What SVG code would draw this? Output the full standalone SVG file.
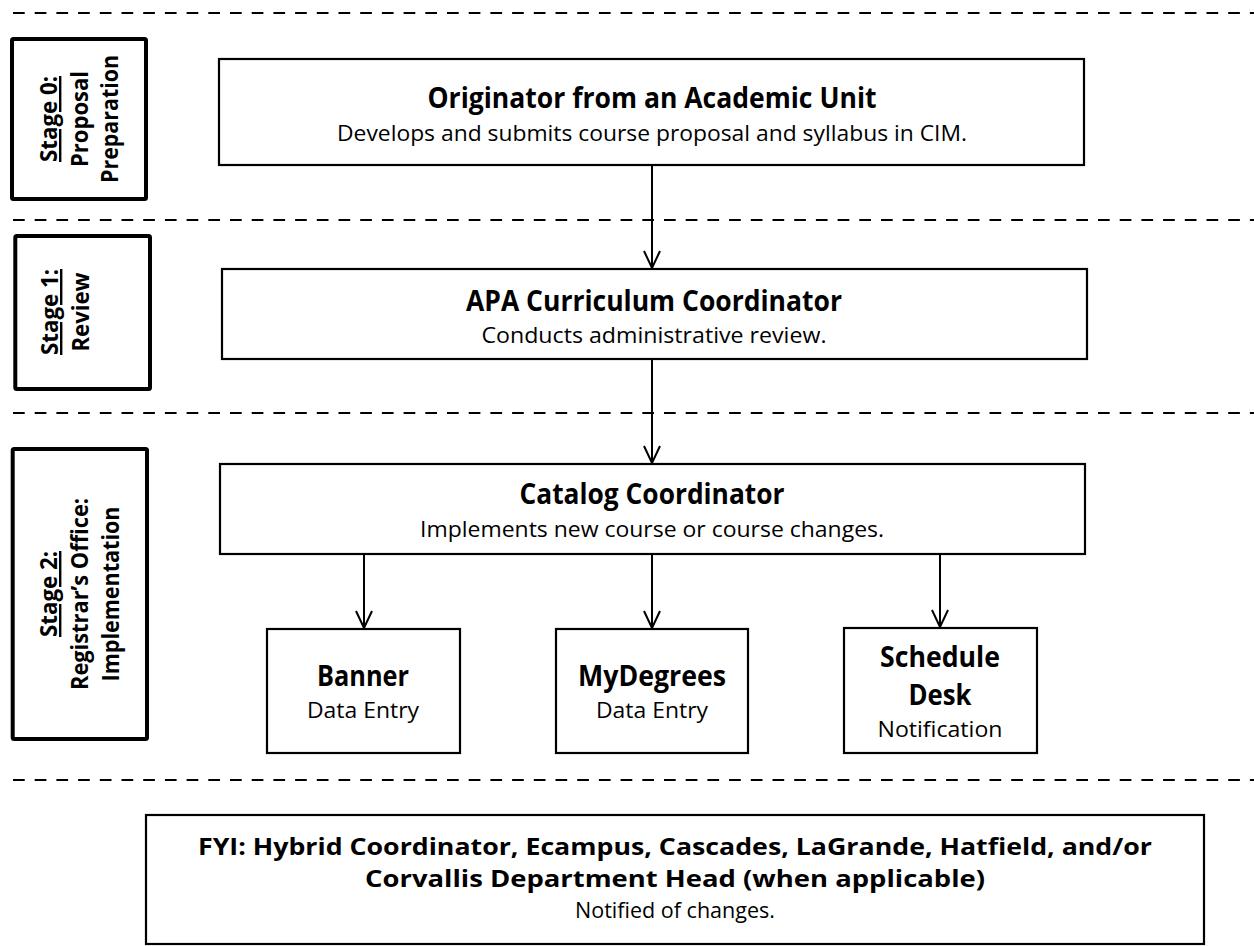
<svg xmlns="http://www.w3.org/2000/svg" width="1254" height="946" viewBox="0 0 1254 946">
<defs>
<style>
.bg{fill:#fff}
.sep{stroke:#000;stroke-width:2;stroke-dasharray:11.7 10;fill:none}
.stage{fill:#fff;stroke:#000;stroke-width:4}
.box{fill:#fff;stroke:#000;stroke-width:2.2}
.t{font-family:"Open Sans","Noto Sans",sans-serif;font-weight:bold;font-size:28px;fill:#000;text-anchor:middle}
.s{font-family:"Open Sans","Noto Sans",sans-serif;font-size:22px;fill:#000;text-anchor:middle}
.st{font-family:"Open Sans","Noto Sans",sans-serif;font-weight:bold;font-size:24px;fill:#000;text-anchor:middle}
.fyi{font-family:"Open Sans","Noto Sans",sans-serif;font-weight:bold;font-size:23px;fill:#000;text-anchor:middle}
.u{text-decoration:underline}
.c{stroke:#000;stroke-width:2;fill:none}
</style>
<marker id="ah" viewBox="0 0 20 20" refX="18" refY="10" markerWidth="20" markerHeight="20" markerUnits="userSpaceOnUse" orient="auto">
<polyline points="1,2 18,10 1,18" fill="none" stroke="#000" stroke-width="2"/>
</marker>
</defs>
<rect class="bg" x="0" y="0" width="1254" height="946"/>
<g id="separators">
<line class="sep" x1="13" y1="13" x2="1254" y2="13"/>
<line class="sep" x1="13" y1="220" x2="1254" y2="220"/>
<line class="sep" x1="13" y1="413" x2="1254" y2="413"/>
<line class="sep" x1="13" y1="780" x2="1254" y2="780"/>
</g>
<g id="stage0">
<rect class="stage" x="12" y="39" width="134" height="160" rx="1.5"/>
<text class="st u" transform="translate(57,119) rotate(-90)" textLength="86" lengthAdjust="spacingAndGlyphs">Stage 0:</text>
<text class="st" transform="translate(88,119) rotate(-90)" textLength="96" lengthAdjust="spacingAndGlyphs">Proposal</text>
<text class="st" transform="translate(118,119) rotate(-90)" textLength="128" lengthAdjust="spacingAndGlyphs">Preparation</text>
</g>
<g id="stage1">
<rect class="stage" x="15.3" y="236" width="134.7" height="153" rx="1.5"/>
<text class="st u" transform="translate(58,312) rotate(-90)" textLength="86" lengthAdjust="spacingAndGlyphs">Stage 1:</text>
<text class="st" transform="translate(89,312) rotate(-90)" textLength="79" lengthAdjust="spacingAndGlyphs">Review</text>
</g>
<g id="stage2">
<rect class="stage" x="12.7" y="449" width="134.3" height="290" rx="1.5"/>
<text class="st u" transform="translate(57,594) rotate(-90)" textLength="86" lengthAdjust="spacingAndGlyphs">Stage 2:</text>
<text class="st" transform="translate(88,594) rotate(-90)" textLength="192" lengthAdjust="spacingAndGlyphs">Registrar’s Office:</text>
<text class="st" transform="translate(119,594) rotate(-90)" textLength="175" lengthAdjust="spacingAndGlyphs">Implementation</text>
</g>
<g id="connectors">
<line class="c" x1="652" y1="165" x2="652" y2="268" marker-end="url(#ah)"/>
<line class="c" x1="652" y1="359" x2="652" y2="463" marker-end="url(#ah)"/>
<line class="c" x1="364" y1="554" x2="364" y2="628" marker-end="url(#ah)"/>
<line class="c" x1="652" y1="554" x2="652" y2="628" marker-end="url(#ah)"/>
<line class="c" x1="940" y1="554" x2="940" y2="627" marker-end="url(#ah)"/>
</g>
<g id="originator">
<rect class="box" x="219" y="59" width="865" height="106"/>
<text class="t" x="652" y="108" textLength="449" lengthAdjust="spacingAndGlyphs">Originator from an Academic Unit</text>
<text class="s" x="652" y="141" textLength="630" lengthAdjust="spacingAndGlyphs">Develops and submits course proposal and syllabus in CIM.</text>
</g>
<g id="apa">
<rect class="box" x="222" y="269" width="865" height="90"/>
<text class="t" x="654" y="311" textLength="376" lengthAdjust="spacingAndGlyphs">APA Curriculum Coordinator</text>
<text class="s" x="654" y="343" textLength="345" lengthAdjust="spacingAndGlyphs">Conducts administrative review.</text>
</g>
<g id="catalog">
<rect class="box" x="220" y="464" width="865" height="90"/>
<text class="t" x="652" y="504" textLength="265" lengthAdjust="spacingAndGlyphs">Catalog Coordinator</text>
<text class="s" x="652" y="537" textLength="464" lengthAdjust="spacingAndGlyphs">Implements new course or course changes.</text>
</g>
<g id="banner">
<rect class="box" x="267" y="629" width="193" height="124"/>
<text class="t" x="363" y="686" textLength="92" lengthAdjust="spacingAndGlyphs">Banner</text>
<text class="s" x="363" y="718" textLength="112" lengthAdjust="spacingAndGlyphs">Data Entry</text>
</g>
<g id="mydegrees">
<rect class="box" x="556" y="629" width="192" height="124"/>
<text class="t" x="652" y="686" textLength="148" lengthAdjust="spacingAndGlyphs">MyDegrees</text>
<text class="s" x="652" y="718" textLength="112" lengthAdjust="spacingAndGlyphs">Data Entry</text>
</g>
<g id="schedule">
<rect class="box" x="844" y="628" width="193" height="125"/>
<text class="t" x="940" y="667" textLength="120" lengthAdjust="spacingAndGlyphs">Schedule</text>
<text class="t" x="940" y="705" textLength="63" lengthAdjust="spacingAndGlyphs">Desk</text>
<text class="s" x="940" y="737" textLength="125" lengthAdjust="spacingAndGlyphs">Notification</text>
</g>
<g id="fyi">
<rect class="box" x="146" y="815" width="1058" height="129"/>
<text class="fyi" x="675" y="855" textLength="954" lengthAdjust="spacingAndGlyphs">FYI: Hybrid Coordinator, Ecampus, Cascades, LaGrande, Hatfield, and/or</text>
<text class="fyi" x="675" y="887" textLength="620" lengthAdjust="spacingAndGlyphs">Corvallis Department Head (when applicable)</text>
<text class="s" x="675" y="918" textLength="200" lengthAdjust="spacingAndGlyphs">Notified of changes.</text>
</g>
</svg>
